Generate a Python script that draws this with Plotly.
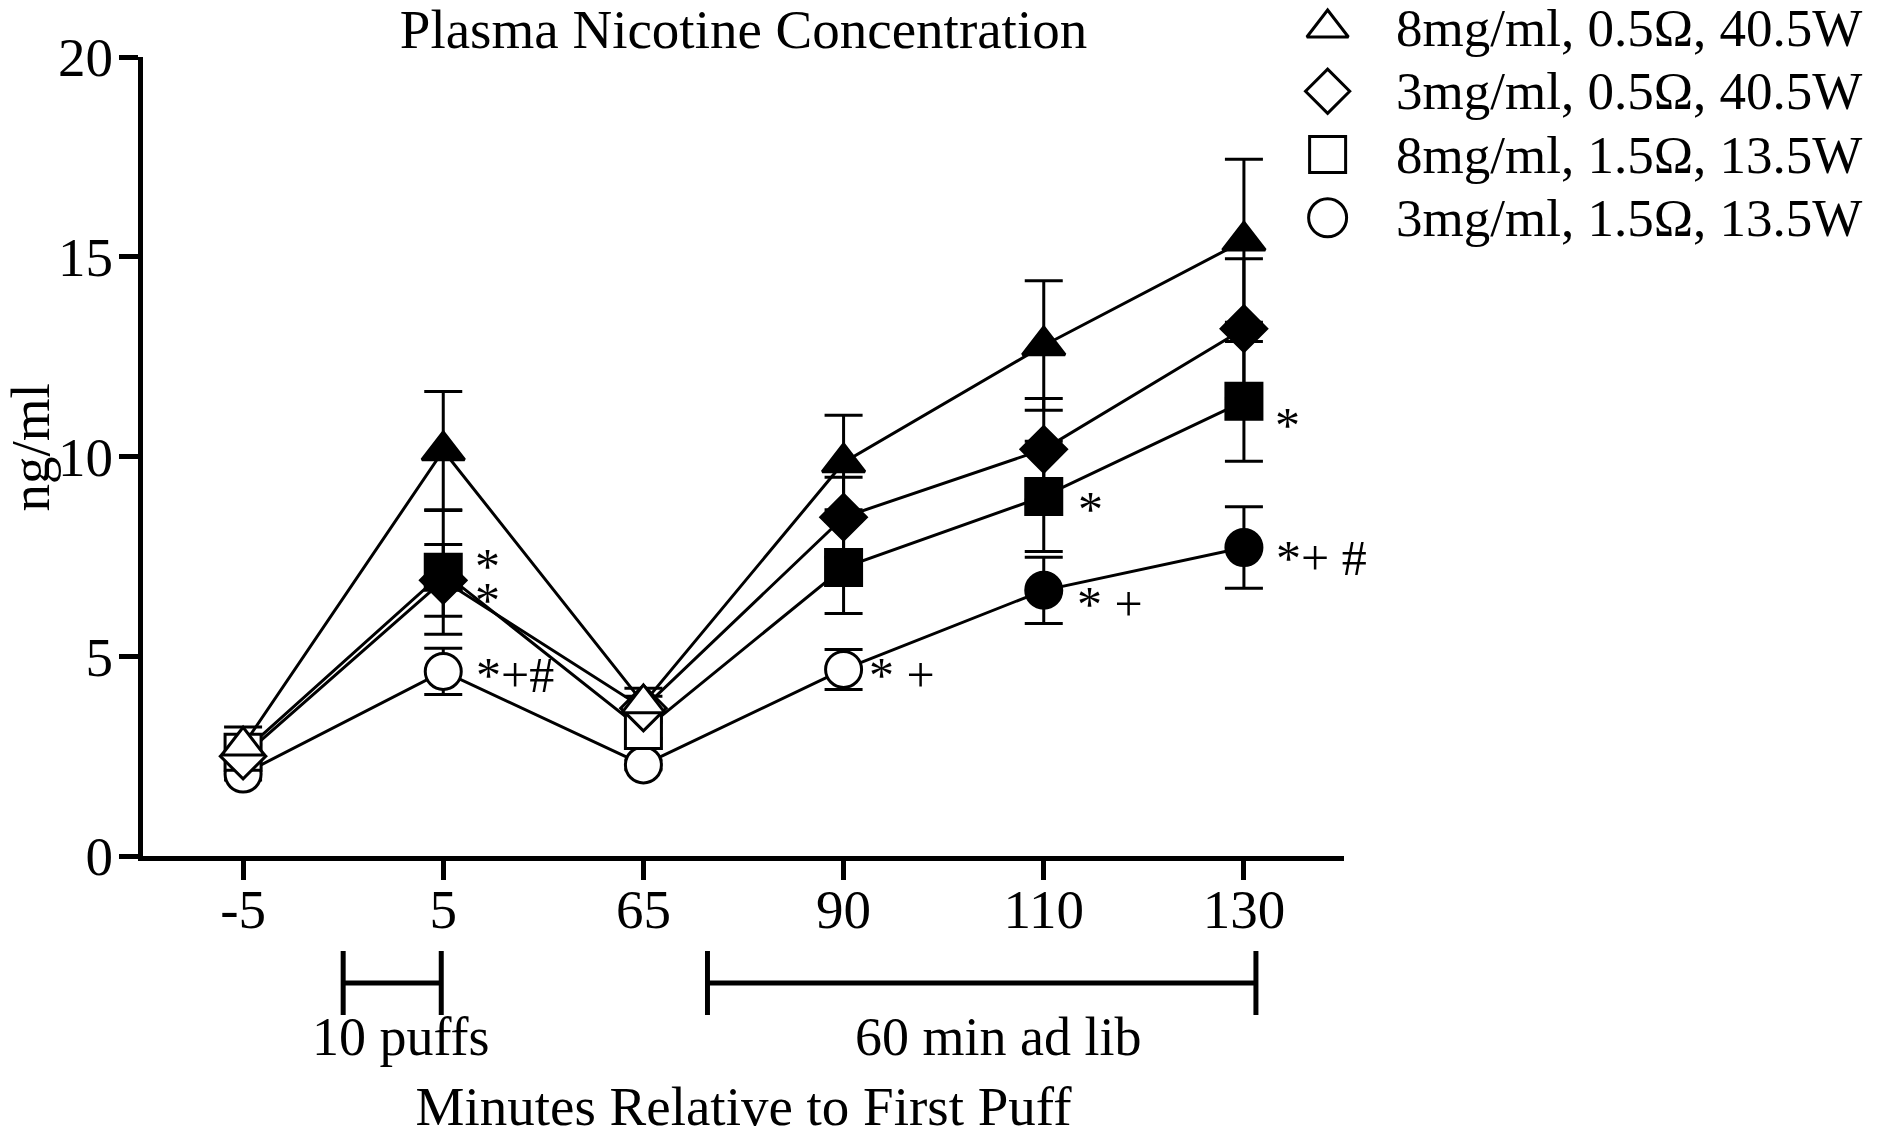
import plotly.graph_objects as go

# ---------------- data ----------------
time_labels = ["-5", "5", "65", "90", "110", "130"]

tri_mean = [2.76, 10.15, 3.82, 9.85, 12.78, 15.40]
tri_sem = [0.47, 1.48, 0.38, 1.18, 1.62, 2.04]
tri_filled = [False, True, False, True, True, True]

dia_mean = [2.50, 6.90, 3.70, 8.48, 10.18, 13.20]
dia_sem = [0.30, 0.90, 0.30, 1.00, 1.27, 1.75]
dia_filled = [False, True, False, True, True, True]

sq_mean = [2.60, 7.10, 3.14, 7.22, 9.00, 11.38]
sq_sem = [0.30, 1.55, 0.20, 1.15, 1.38, 1.50]
sq_filled = [False, True, False, True, True, True]

cir_mean = [2.05, 4.62, 2.28, 4.67, 6.65, 7.72]
cir_sem = [0.15, 0.58, 0.12, 0.50, 0.83, 1.02]
cir_filled = [False, False, False, False, True, True]

legend_labels = [
    "8mg/ml, 0.5Ω, 40.5W",
    "3mg/ml, 0.5Ω, 40.5W",
    "8mg/ml, 1.5Ω, 13.5W",
    "3mg/ml, 1.5Ω, 13.5W",
]

# significance marks: (text, x category position, y value)
sig_marks = [
    ("*", 1.223, 7.25),
    ("*", 1.223, 6.40),
    ("*+#", 1.36, 4.53),
    ("* +", 3.29, 4.53),
    ("*", 4.236, 8.68),
    ("* +", 4.33, 6.30),
    ("*", 5.22, 10.78),
    ("*+ #", 5.39, 7.45),
]

# protocol periods under the axis: (label, start, end, label centre)
periods = [("10 puffs", 0.5, 0.99, 0.79), ("60 min ad lib", 2.32, 5.06, 3.77)]

y_ticks = [0, 5, 10, 15, 20]

# ---------------- styling ----------------
FONT = "Liberation Serif, Times New Roman, serif"
W, H = 1880, 1137
ML, MB = 143, 281
plot_w = W - ML
plot_h = H - MB
x_dom = [0, 1201 / plot_w]
y_dom = [0, (plot_h - 57) / plot_h]

series = [
    # name, mean, sem, filled, symbol, size
    (legend_labels[3], cir_mean, cir_sem, cir_filled, "circle", 36),
    (legend_labels[2], sq_mean, sq_sem, sq_filled, "square", 36),
    (legend_labels[1], dia_mean, dia_sem, dia_filled, "diamond", 35),
    (legend_labels[0], tri_mean, tri_sem, tri_filled, "triangle-up", 37),
]

fig = go.Figure()

# lines + error bars first
for name, mean, sem, filled, sym, size in series:
    fig.add_trace(go.Scatter(
        x=time_labels, y=mean, mode="lines",
        line=dict(color="black", width=3),
        error_y=dict(type="data", array=sem, visible=True, color="black",
                     thickness=3, width=19),
        showlegend=False, hoverinfo="skip", name=name,
    ))

# markers on top
for name, mean, sem, filled, sym, size in series:
    fig.add_trace(go.Scatter(
        x=time_labels, y=mean, mode="markers",
        marker=dict(symbol=sym, size=size,
                    color=["black" if f else "white" for f in filled],
                    line=dict(color="black", width=3)),
        showlegend=False, name=name, cliponaxis=False,
    ))

# manual legend on its own axes
legend_series = [
    ("triangle-up", 36), ("diamond", 34), ("square", 36), ("circle", 38)
]
rows = list(range(1, len(legend_labels) + 1))
for (sym, size), row in zip(legend_series, rows):
    fig.add_trace(go.Scatter(
        x=[0], y=[row], mode="markers", xaxis="x2", yaxis="y2",
        marker=dict(symbol=sym, size=size, color="white",
                    line=dict(color="black", width=3)),
        showlegend=False, hoverinfo="skip", cliponaxis=False,
    ))

annotations = []
for label, row in zip(legend_labels, rows):
    annotations.append(dict(
        text=label, x=0.12, y=row, xref="x2", yref="y2",
        xanchor="left", yanchor="middle", showarrow=False,
        font=dict(family=FONT, size=53, color="black"),
    ))

for txt, xv, yv in sig_marks:
    annotations.append(dict(
        text=txt, x=xv, y=yv, xref="x", yref="y",
        xanchor="center", yanchor="middle", showarrow=False,
        font=dict(family=FONT, size=50, color="black"),
    ))

shapes = []
for label, x0, x1, xc in periods:
    shapes.append(dict(type="line", xref="x", yref="paper", ysizemode="pixel",
                       yanchor=0, x0=x0, x1=x1, y0=-127, y1=-127,
                       line=dict(color="black", width=5)))
    for xv in (x0, x1):
        shapes.append(dict(type="line", xref="x", yref="paper", ysizemode="pixel",
                           yanchor=0, x0=xv, x1=xv, y0=-95, y1=-159,
                           line=dict(color="black", width=5)))
    annotations.append(dict(
        text=label, x=xc, y=0, xref="x", yref="paper",
        yshift=-181, xanchor="center", yanchor="middle", showarrow=False,
        font=dict(family=FONT, size=54, color="black"),
    ))

# y-axis title placed as a rotated annotation
annotations.append(dict(
    text="ng/ml", x=0, y=y_dom[1] / 2, xref="paper", yref="paper",
    xshift=-(ML - 30), yshift=9, xanchor="center", yanchor="middle",
    textangle=-90,
    showarrow=False, font=dict(family=FONT, size=55, color="black"),
))

fig.update_layout(
    width=W, height=H,
    margin=dict(l=ML, r=0, t=0, b=MB, pad=0, autoexpand=False),
    paper_bgcolor="white", plot_bgcolor="rgba(0,0,0,0)",
    font=dict(family=FONT, size=55, color="black"),
    title=dict(text="Plasma Nicotine Concentration",
               x=ML / W + (x_dom[0] + x_dom[1]) / 2 * plot_w / W,
               xref="container", xanchor="center",
               y=1 - 29 / H, yref="container", yanchor="middle",
               font=dict(family=FONT, size=55, color="black")),
    xaxis=dict(
        type="category", domain=x_dom, range=[-0.5, 5.5], automargin=False,
        showline=True, linecolor="black", linewidth=5,
        ticks="outside", ticklen=19, tickwidth=5, tickcolor="black",
        ticklabelstandoff=-18,
        showgrid=False, zeroline=False,
        tickfont=dict(family=FONT, size=55),
        title=dict(text="Minutes Relative to First Puff", standoff=182,
                   font=dict(family=FONT, size=55)),
        anchor="y",
    ),
    yaxis=dict(
        domain=y_dom, range=[0, 20], tickvals=y_ticks, automargin=False,
        showline=True, linecolor="black", linewidth=5,
        ticks="outside", ticklen=19, tickwidth=5, tickcolor="black",
        ticklabelstandoff=-5,
        showgrid=False, zeroline=False,
        tickfont=dict(family=FONT, size=55),
        anchor="x",
    ),
    xaxis2=dict(domain=[(1300 - ML) / plot_w, 1], range=[-0.05, 1],
                visible=False, anchor="y2", automargin=False),
    yaxis2=dict(domain=[(plot_h - 253.3) / plot_h, 1], range=[4.56, 0.558],
                visible=False, anchor="x2", automargin=False),
    annotations=annotations,
    shapes=shapes,
    showlegend=False,
)

fig.write_html("out.html", config={"displayModeBar": False},
               post_script="document.body.style.margin='0px';")
